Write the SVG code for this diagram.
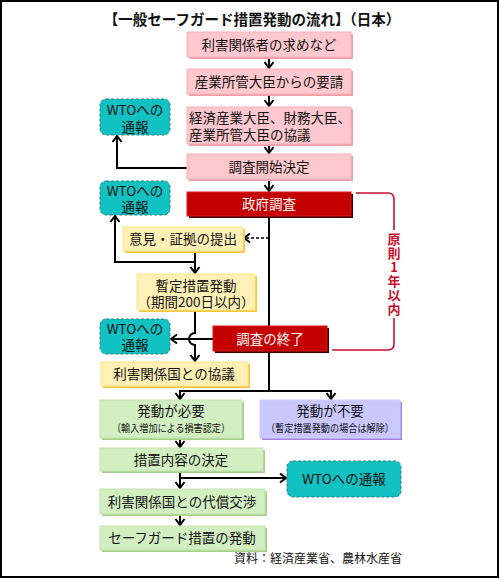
<svg xmlns="http://www.w3.org/2000/svg" width="500" height="579" viewBox="0 0 500 579">
<style>
text{font-family:"Noto Sans CJK JP","Noto Sans CJK SC",sans-serif;fill:#111;}
.t{font-size:13.5px;text-anchor:middle;}
.tl{font-size:13.5px;}
.w{font-size:13.5px;text-anchor:middle;fill:#fff;}
.s{font-size:10.5px;}
.pk{fill:#ffc8ce;stroke:#f6b0b8;stroke-width:1;}
.pks{fill:#ef9ea8;}
.rd{fill:#c40000;stroke:#d21a1a;stroke-width:1;}
.rds{fill:#3a0000;}
.yl{fill:#fff1b6;stroke:#fde58a;stroke-width:1;}
.yls{fill:#f3c63e;}
.gr{fill:#d2efc2;stroke:#c2e3ad;stroke-width:1;}
.grs{fill:#a5cf8a;}
.lv{fill:#c8c8ff;stroke:#d0d0ff;stroke-width:1;}
.lvs{fill:#a880e0;}
.tq{fill:#12c2c2;stroke:#2a7f80;stroke-width:1;stroke-dasharray:3,2;}
.c{fill:none;stroke:#000;stroke-width:2;}
.br{fill:none;stroke:#c8102e;stroke-width:1.6;}
.rt{font-size:13px;font-weight:bold;fill:#c8102e;writing-mode:vertical-rl;text-orientation:upright;letter-spacing:1px;}
</style>
<defs>
<marker id="ah" viewBox="-8 -6 9 12" refX="0" refY="0" markerWidth="9" markerHeight="12" markerUnits="userSpaceOnUse" orient="auto">
<path d="M-6,-4.5 L0,0 L-6,4.5" fill="none" stroke="#000" stroke-width="2"/>
</marker>
</defs>
<rect x="1" y="1" width="497" height="576" fill="#fff" stroke="#000" stroke-width="2"/>
<text x="252" y="25" style="font-size:14.5px;font-weight:bold;text-anchor:middle;">【一般セーフガード措置発動の流れ】（日本）</text>

<g id="connectors">
<path class="c" d="M269,57 V68" marker-end="url(#ah)"/>
<path class="c" d="M269,94 V106" marker-end="url(#ah)"/>
<path class="c" d="M269,144 V153" marker-end="url(#ah)"/>
<path class="c" d="M269,179 V191" marker-end="url(#ah)"/>
<path class="c" d="M187,168 H117 V136" marker-end="url(#ah)"/>
<path class="c" d="M269,216 V391"/>
<path d="M269,238 H244" fill="none" stroke="#000" stroke-width="1.6" stroke-dasharray="3,2" marker-end="url(#ah)"/>
<path class="c" d="M195,251 V273" marker-end="url(#ah)"/>
<path class="c" d="M195,262 H115 V216" marker-end="url(#ah)"/>
<path class="c" d="M213,339 H171" marker-end="url(#ah)"/>
<path class="c" d="M195,310 V333 A6,6 0 0 0 195,345 V361" marker-end="url(#ah)"/>
<path class="c" d="M180,399 V391 H331 V399" />
<path class="c" d="M180,391 V399" marker-end="url(#ah)"/>
<path class="c" d="M331,391 V399" marker-end="url(#ah)"/>
<path class="c" d="M180,438 V447" marker-end="url(#ah)"/>
<path class="c" d="M180,471 V488" marker-end="url(#ah)"/>
<path class="c" d="M180,478 H286" marker-end="url(#ah)"/>
<path class="c" d="M180,514 V525" marker-end="url(#ah)"/>
<path class="br" d="M356,193 H388 Q394,193 394,199 V230 M394,318 V344 Q394,350 388,350 H332"/>
</g>

<g id="bracket-label">
<text class="rt" x="394" y="233">原則1年以内</text>
</g>

<g id="n1"><rect class="pks" x="189" y="34" width="164" height="25"/><rect class="pk" x="187" y="32" width="164" height="25"/><text class="t" x="269" y="49.5">利害関係者の求めなど</text></g>
<g id="n2"><rect class="pks" x="189" y="71" width="164" height="25"/><rect class="pk" x="187" y="69" width="164" height="25"/><text class="t" x="269" y="86.5">産業所管大臣からの要請</text></g>
<g id="n3"><rect class="pks" x="189" y="109" width="164" height="37"/><rect class="pk" x="187" y="107" width="164" height="37"/><text class="tl" x="189" y="123">経済産業大臣、財務大臣、<tspan x="189" dy="17">産業所管大臣の協議</tspan></text></g>
<g id="n4"><rect class="pks" x="189" y="156" width="164" height="25"/><rect class="pk" x="187" y="154" width="164" height="25"/><text class="t" x="269" y="171.5">調査開始決定</text></g>

<g id="wto1"><rect class="tq" x="100" y="99" width="70" height="36" rx="6"/><text class="t" x="135" y="115">WTOへの<tspan x="135" dy="17">通報</tspan></text></g>
<g id="wto2"><rect class="tq" x="100" y="181" width="70" height="34" rx="6"/><text class="t" x="135" y="196">WTOへの<tspan x="135" dy="16">通報</tspan></text></g>
<g id="wto3"><rect class="tq" x="100" y="319" width="70" height="35" rx="6"/><text class="t" x="135" y="334">WTOへの<tspan x="135" dy="16">通報</tspan></text></g>
<g id="wto4"><rect class="tq" x="287" y="461" width="114" height="36" rx="6"/><text class="t" x="344" y="484">WTOへの通報</text></g>

<g id="n5"><rect class="rds" x="189" y="194" width="164" height="24"/><rect class="rd" x="187" y="192" width="164" height="24"/><text class="w" x="269" y="209">政府調査</text></g>
<g id="n6"><rect class="yls" x="125" y="229" width="120" height="24"/><rect class="yl" x="123" y="227" width="120" height="24"/><text class="t" x="183" y="244">意見・証拠の提出</text></g>
<g id="n7"><rect class="yls" x="139" y="276" width="118" height="36"/><rect class="yl" x="137" y="274" width="118" height="36"/><text class="t" x="196" y="291">暫定措置発動<tspan x="196" dy="16">（期間200日以内）</tspan></text></g>
<g id="n8"><rect class="rds" x="215" y="328" width="114" height="25"/><rect class="rd" x="213" y="326" width="114" height="25"/><text class="w" x="270" y="343.5">調査の終了</text></g>
<g id="n9"><rect class="yls" x="103" y="364" width="147" height="24"/><rect class="yl" x="101" y="362" width="147" height="24"/><text class="t" x="174" y="379">利害関係国との協議</text></g>

<g id="n10"><rect class="grs" x="102" y="402" width="142" height="38"/><rect class="gr" x="100" y="400" width="142" height="38"/><text class="t" x="171" y="416">発動が必要<tspan class="s" x="171" dy="16" textLength="118" lengthAdjust="spacingAndGlyphs">（輸入増加による損害認定）</tspan></text></g>
<g id="n11"><rect class="lvs" x="262" y="402" width="140" height="38"/><rect class="lv" x="260" y="400" width="140" height="38"/><text class="t" x="330" y="416">発動が不要<tspan class="s" x="330" dy="16" textLength="128" lengthAdjust="spacingAndGlyphs">（暫定措置発動の場合は解除）</tspan></text></g>
<g id="n12"><rect class="grs" x="102" y="450" width="163" height="23"/><rect class="gr" x="100" y="448" width="163" height="23"/><text class="t" x="181" y="464.5">措置内容の決定</text></g>
<g id="n13"><rect class="grs" x="102" y="491" width="165" height="25"/><rect class="gr" x="100" y="489" width="165" height="25"/><text class="t" x="182" y="506.5">利害関係国との代償交渉</text></g>
<g id="n14"><rect class="grs" x="102" y="528" width="165" height="24"/><rect class="gr" x="100" y="526" width="165" height="24"/><text class="t" x="182" y="543">セーフガード措置の発動</text></g>

<text x="402" y="563" style="font-size:12px;text-anchor:end;">資料：経済産業省、農林水産省</text>
</svg>
